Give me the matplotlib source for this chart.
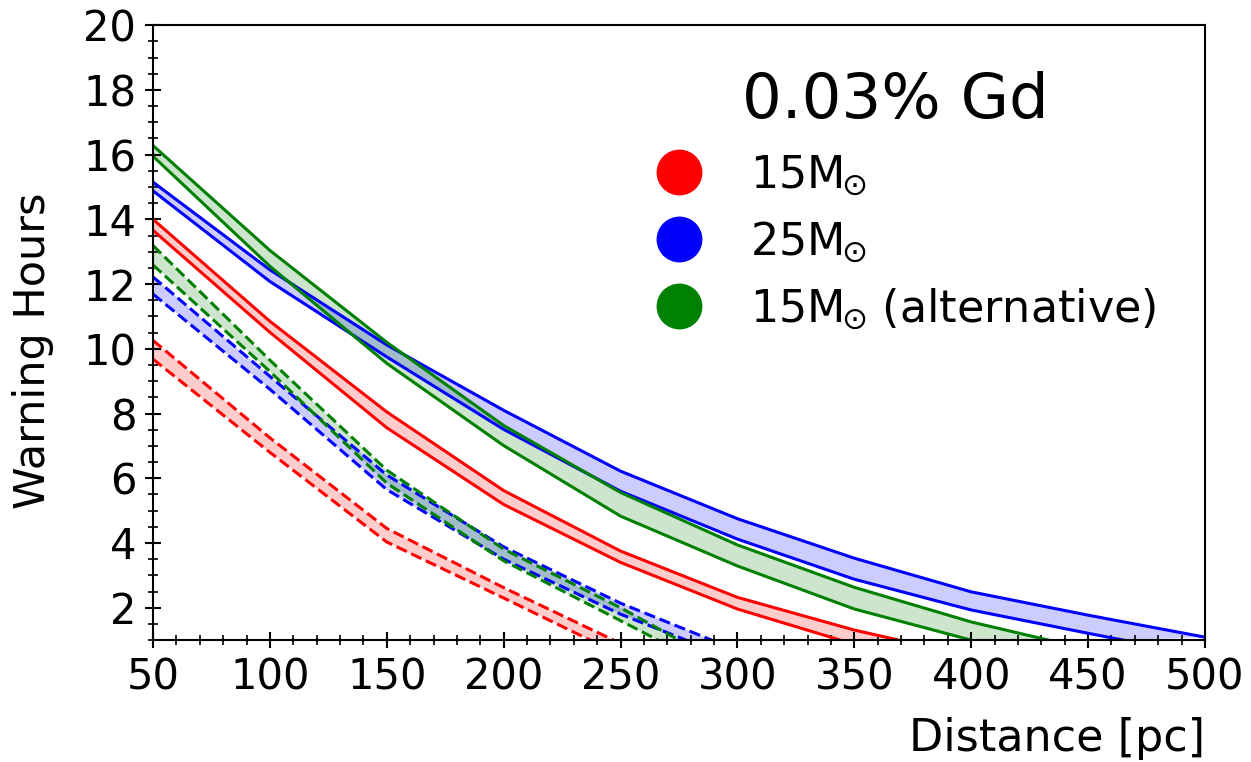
import matplotlib
matplotlib.use("Agg")
import matplotlib.pyplot as plt
from matplotlib.lines import Line2D
from matplotlib.ticker import MultipleLocator

# values (distance in pc, warning hours)
red_hi_x = [50, 100, 150, 200, 250, 300, 350, 369]
red_hi_y = [14.0, 10.85, 8.05, 5.62, 3.75, 2.32, 1.31, 1.0]
red_lo_x = [50, 100, 150, 200, 250, 300, 344]
red_lo_y = [13.66, 10.51, 7.56, 5.19, 3.40, 1.96, 1.0]

blue_hi_x = [50, 100, 150, 200, 250, 300, 350, 400, 450, 500]
blue_hi_y = [15.15, 12.44, 10.12, 8.10, 6.22, 4.75, 3.53, 2.49, 1.77, 1.09]
blue_lo_x = [50, 100, 150, 200, 250, 300, 350, 400, 450, 465]
blue_lo_y = [14.88, 12.08, 9.75, 7.51, 5.60, 4.12, 2.88, 1.93, 1.21, 1.0]

green_hi_x = [50, 100, 150, 200, 250, 300, 350, 400, 433]
green_hi_y = [16.28, 13.04, 10.2, 7.63, 5.56, 3.94, 2.63, 1.56, 1.0]
green_lo_x = [50, 100, 150, 200, 250, 300, 350, 400]
green_lo_y = [15.95, 12.55, 9.55, 7.01, 4.83, 3.29, 1.96, 1.0]

red_d_hi_x = [50, 100, 150, 200, 247]
red_d_hi_y = [10.26, 7.25, 4.45, 2.62, 1.0]
red_d_lo_x = [50, 100, 150, 200, 237]
red_d_lo_y = [9.68, 6.8, 4.03, 2.30, 1.0]

blue_d_hi_x = [50, 100, 150, 200, 250, 289]
blue_d_hi_y = [12.22, 9.15, 6.1, 3.88, 2.14, 1.0]
blue_d_lo_x = [50, 100, 150, 200, 250, 278]
blue_d_lo_y = [11.69, 8.75, 5.65, 3.5, 1.8, 1.0]

green_d_hi_x = [50, 100, 150, 200, 250, 275]
green_d_hi_y = [13.19, 9.65, 6.25, 3.81, 2.0, 1.0]
green_d_lo_x = [50, 100, 150, 200, 250, 266]
green_d_lo_y = [12.59, 9.3, 5.85, 3.45, 1.6, 1.0]

bands = [
    ("red", "-", red_hi_x, red_hi_y, red_lo_x, red_lo_y),
    ("blue", "-", blue_hi_x, blue_hi_y, blue_lo_x, blue_lo_y),
    ("green", "-", green_hi_x, green_hi_y, green_lo_x, green_lo_y),
    ("red", "--", red_d_hi_x, red_d_hi_y, red_d_lo_x, red_d_lo_y),
    ("blue", "--", blue_d_hi_x, blue_d_hi_y, blue_d_lo_x, blue_d_lo_y),
    ("green", "--", green_d_hi_x, green_d_hi_y, green_d_lo_x, green_d_lo_y),
]

legend_labels = [r"15$\mathrm{M}_{\!\!\odot}$", r"25$\mathrm{M}_{\!\!\odot}$",
                 r"15$\mathrm{M}_{\!\!\odot}\!$ (alternative)"]
legend_colors = ["red", "blue", "green"]


def band_polygon(hx, hy, lx, ly):
    # closed outline: upper edge left->right, then lower edge right->left
    xs = list(hx) + list(lx)[::-1]
    ys = list(hy) + list(ly)[::-1]
    return xs, ys


plt.rcParams["mathtext.fontset"] = "dejavusans"

fig = plt.figure(figsize=(12.51, 7.62), dpi=100)
ax = fig.add_axes([0.1223, 0.16, 0.8409, 0.807])

for color, ls, hx, hy, lx, ly in bands:
    px, py = band_polygon(hx, hy, lx, ly)
    ax.fill(px, py, color=color, alpha=0.2, lw=0)
    ax.plot(hx, hy, color=color, ls=ls, lw=2.2)
    ax.plot(lx, ly, color=color, ls=ls, lw=2.2)

ax.set_xlim(50, 500)
ax.set_ylim(1, 20)
ax.xaxis.set_major_locator(MultipleLocator(50))
ax.xaxis.set_minor_locator(MultipleLocator(10))
ax.yaxis.set_major_locator(MultipleLocator(2))
ax.yaxis.set_minor_locator(MultipleLocator(0.5))
ax.tick_params(which="major", direction="inout", length=12, width=1.5, labelsize=30, pad=6)
ax.tick_params(which="minor", direction="inout", length=7, width=1.2)
for side in ax.spines.values():
    side.set_linewidth(1.5)

ax.set_xlabel("Distance [pc]", fontsize=32, loc="right", labelpad=13)
ax.set_ylabel("Warning Hours", fontsize=31)
ax.yaxis.set_label_coords(-0.094, 0.47)

handles = [
    Line2D([], [], marker="o", ls="none", color=c, markersize=32)
    for c in legend_colors
]
leg = ax.legend(
    handles,
    legend_labels,
    title="0.03% Gd",
    title_fontsize=45,
    fontsize=32,
    frameon=False,
    loc="upper right",
    bbox_to_anchor=(0.992, 0.99),
    handletextpad=0.6,
    labelspacing=0.5,
)

fig.savefig("out.png", dpi=100)
